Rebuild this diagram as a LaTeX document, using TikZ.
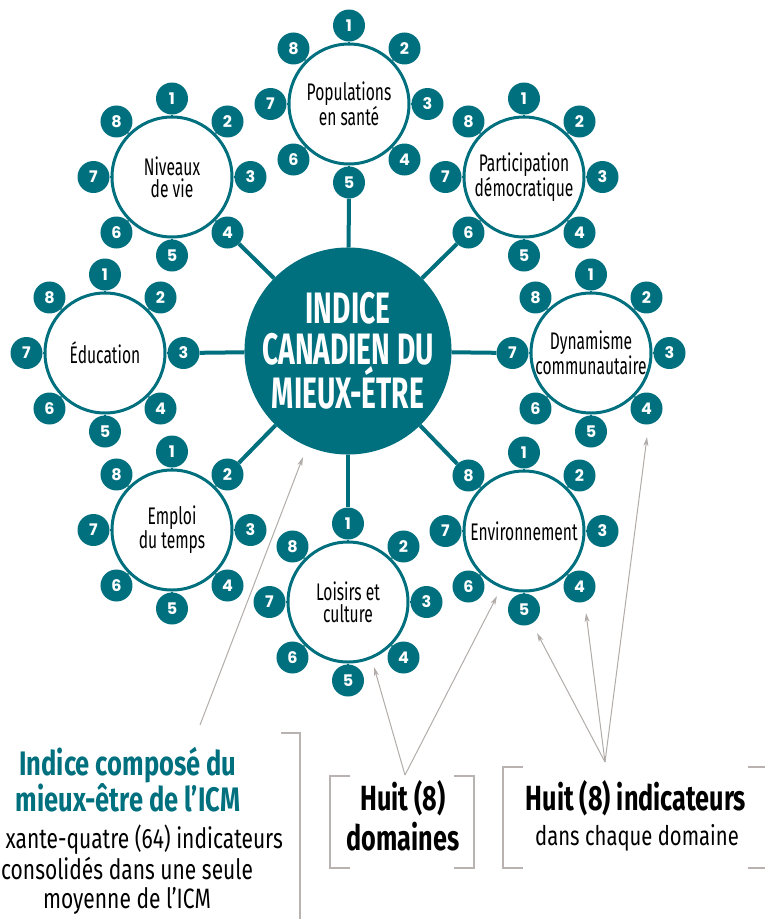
\documentclass[tikz,border=0pt]{standalone}
\usepackage{fontspec}
\setmainfont{Fira Sans}
\newfontfamily\cond{Fira Sans}[FakeStretch=0.64]
\newfontfamily\domfont{Fira Sans}[FakeStretch=0.65]
\newfontfamily\capfont{Fira Sans}[FakeStretch=0.75]
\newfontfamily\headfont{Fira Sans}[FakeStretch=0.72]
\newfontfamily\numfont{Poppins}
\usetikzlibrary{arrows.meta,calc,backgrounds}
\definecolor{icmteal}{HTML}{00707F}
\definecolor{pointergray}{HTML}{B2ACA9}
\definecolor{bracketgray}{HTML}{B8B3B0}
\begin{document}
\begin{tikzpicture}[x=1pt,y=-1pt,
  core/.style={circle, fill=icmteal, minimum size=206pt, inner sep=0pt,
    text=white, align=center, font=\cond\bfseries\fontsize{44}{41}\selectfont},
  domnode/.style={circle, draw=icmteal, line width=3pt, fill=white,
    minimum size=120pt, inner sep=0pt, align=center,
    font=\domfont\fontsize{24}{22}\selectfont},
  ind/.style={circle, fill=icmteal, minimum size=32pt, inner sep=0pt,
    text=white, font=\numfont\bfseries\fontsize{16}{16}\selectfont},
  spoke/.style={draw=icmteal, line width=4pt},
  stub/.style={draw=icmteal, line width=2pt},
  pointer/.style={draw=pointergray, line width=1pt,
    -{Stealth[length=9pt,width=5pt,inset=2.5pt]}},
  bracket/.style={draw=bracketgray, line width=1.2pt},
  caption/.style={inner sep=0pt, align=center}]
\useasboundingbox (0,0) rectangle (765,919);

% central index
\node[core] (core) at (348,351) {INDICE\\CANADIEN DU\\MIEUX-ÉTRE};

% the eight domains, each with its eight indicators
\foreach \nm/\cx/\cy/\txt in {
    pop/349/104/{Populations\\en santé},
    niv/172/177/{Niveaux\\de vie},
    par/524/177/{Participation\\démocratique},
    edu/105/353/{Éducation},
    dyn/591/353/{Dynamisme\\communautaire},
    emp/172/530/{Emploi\\du temps},
    loi/348/602/{Loisirs et\\culture},
    env/524/531/{Environnement}} {
  \node[domnode] (\nm) at (\cx,\cy) {\txt};
  \foreach \k in {1,...,8} {
    \node[ind] (\nm-\k) at ($(\nm)+({-90+45*(\k-1)}:78.5)$) {\k};
    \begin{scope}[on background layer]
      \draw[stub] (\nm) -- (\nm-\k);
    \end{scope}
  }
}

% spokes from the index to the domains
\begin{scope}[on background layer]
  \draw[spoke] (core) -- (pop-5);
  \draw[spoke] (core) -- (niv-4);
  \draw[spoke] (core) -- (par-6);
  \draw[spoke] (core) -- (edu-3);
  \draw[spoke] (core) -- (dyn-7);
  \draw[spoke] (core) -- (emp-2);
  \draw[spoke] (core) -- (loi-1);
  \draw[spoke] (core) -- (env-8);
\end{scope}

% captions (base anchor sits on the last line)
\node[caption, anchor=base, text=icmteal,
  font=\capfont\bfseries\fontsize{34}{36}\selectfont] (capA) at (128,811)
  {Indice composé du\\mieux-être de l’ICM};
\node[caption, anchor=base east, font=\capfont\fontsize{28}{30}\selectfont]
  (capB) at (283,848) {xante-quatre (64) indicateurs};
\node[caption, anchor=base, font=\capfont\fontsize{28}{29}\selectfont]
  (capC) at (127,908) {consolidés dans une seule\\moyenne de l’ICM};
\node[caption, anchor=base, font=\headfont\bfseries\fontsize{35}{40}\selectfont]
  (capD) at (403,850) {Huit (8)\\domaines};
\node[caption, anchor=base, font=\headfont\bfseries\fontsize{35}{35}\selectfont]
  (capE) at (636,810) {Huit (8) indicateurs};
\node[caption, anchor=base, font=\capfont\fontsize{27}{27}\selectfont]
  (capF) at (637,845) {dans chaque domaine};

% pointers
\coordinate (pA) at (200,725);
\coordinate (pD) at (405,775);
\coordinate (pE) at (605,762);
\draw[pointer] (pA) -- (303,457);
\draw[pointer] (pD) -- (374,667);
\draw[pointer] (pD) -- (497,596);
\draw[pointer] (pE) -- (537,633);
\draw[pointer] (pE) -- (586,613);
\draw[pointer] (pE) -- (647,437);

% brackets
\draw[bracket] (281,733) -- (300,733) -- (300,925);
\draw[bracket] (350,776) -- (330,776) -- (330,868) -- (350,868);
\draw[bracket] (454,776) -- (474,776) -- (474,868) -- (454,868);
\draw[bracket] (523,767) -- (503,767) -- (503,868) -- (523,868);
\draw[bracket] (748,767) -- (767,767) -- (767,868) -- (748,868);
\end{tikzpicture}
\end{document}
